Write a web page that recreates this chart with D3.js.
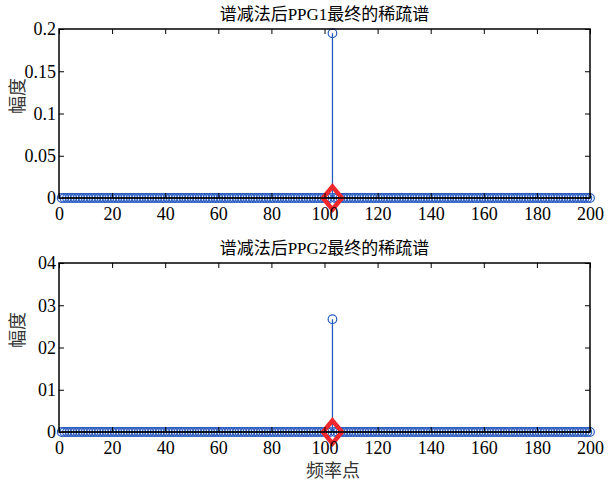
<!DOCTYPE html>
<html>
<head>
<meta charset="utf-8">
<script src="https://cdn.jsdelivr.net/npm/d3@7"></script>
<style>
body{margin:0;background:#fff;}
text{font-family:"Liberation Serif","Noto Sans CJK SC",serif;}
</style>
</head>
<body>
<div id="chart"></div>
<script>
// data
var freqPoints = d3.range(1, 201);           // 频率点 1..200
var peakIndex = 103;
var titles = ["谱减法后PPG1最终的稀疏谱", "谱减法后PPG2最终的稀疏谱"];
var peakValues = [0.195, 0.0267];
var yMax = [0.2, 0.04];
var yTicks = [[0, 0.05, 0.1, 0.15, 0.2], [0, 0.01, 0.02, 0.03, 0.04]];
var yTickLabels = [["0", "0.05", "0.1", "0.15", "0.2"], ["0", "01", "02", "03", "04"]];
var xTicks = d3.range(0, 201, 20);

var W = 610, H = 486;
var svg = d3.select("#chart").append("svg").attr("width", W).attr("height", H);

var panels = [{top: 29, bottom: 198}, {top: 263, bottom: 432}];
var left = 59, right = 590;
var blue = "#2a5cc0";

panels.forEach(function(p, k){
	var x = d3.scaleLinear().domain([0, 200]).range([left, right]);
	var y = d3.scaleLinear().domain([0, yMax[k]]).range([p.bottom, p.top]);
	var g = svg.append("g");

	var vals = freqPoints.map(function(f){ return f == peakIndex ? peakValues[k] : 0; });

	// stems
	g.selectAll(".stem").data(freqPoints).enter().append("line")
		.attr("x1", function(d){ return x(d); }).attr("x2", function(d){ return x(d); })
		.attr("y1", y(0)).attr("y2", function(d, i){ return y(vals[i]); })
		.attr("stroke", blue).attr("stroke-width", 1.3);

	// markers
	g.selectAll(".mk").data(freqPoints).enter().append("circle")
		.attr("cx", function(d){ return x(d); })
		.attr("cy", function(d, i){ return y(vals[i]); })
		.attr("r", 4.3).attr("fill", "none").attr("stroke", blue).attr("stroke-width", 1.2);

	// baseline
	g.append("line").attr("x1", x(freqPoints[0])).attr("x2", x(freqPoints[freqPoints.length-1]))
		.attr("y1", y(0)).attr("y2", y(0)).attr("stroke", "#000").attr("stroke-width", 1.2);

	// red diamond at peak frequency
	var dx = x(peakIndex), dy = y(0), s = 9.5;
	g.append("path")
		.attr("d", "M" + dx + "," + (dy - s*1.2) + "L" + (dx + s) + "," + dy + "L" + dx + "," + (dy + s*1.2) + "L" + (dx - s) + "," + dy + "Z")
		.attr("fill", "none").attr("stroke", "#f0282d").attr("stroke-width", 4.5);

	// box
	g.append("rect").attr("x", left).attr("y", p.top).attr("width", right - left).attr("height", p.bottom - p.top)
		.attr("fill", "none").attr("stroke", "#000").attr("stroke-width", 1.5);

	// x axis (ticks inward, both sides)
	var xb = g.append("g").attr("transform", "translate(0," + p.bottom + ")")
		.call(d3.axisBottom(x).tickValues(xTicks).tickSize(-5).tickPadding(9).tickFormat(d3.format("d")));
	var xt = g.append("g").attr("transform", "translate(0," + p.top + ")")
		.call(d3.axisTop(x).tickValues(xTicks).tickSize(-5).tickFormat(""));
	var yl = g.append("g").attr("transform", "translate(" + left + ",0)")
		.call(d3.axisLeft(y).tickValues(yTicks[k]).tickSize(-5).tickPadding(3)
			.tickFormat(function(d, i){ return yTickLabels[k][i]; }));
	var yr = g.append("g").attr("transform", "translate(" + right + ",0)")
		.call(d3.axisRight(y).tickValues(yTicks[k]).tickSize(-5).tickFormat(""));

	[xb, xt, yl, yr].forEach(function(a){
		a.select(".domain").remove();
		a.selectAll(".tick line").attr("stroke", "#000");
		a.selectAll("text").attr("fill", "#000").style("font-size", "18px");
	});

	// title
	svg.append("text").attr("x", (left + right) / 2).attr("y", p.top - 9)
		.attr("text-anchor", "middle").style("font-size", "17px").text(titles[k]);

	// y label
	svg.append("text").attr("transform", "translate(24," + (p.top + 67) + ") rotate(-90)")
		.attr("text-anchor", "middle").style("font-size", "18px").attr("fill", "#333").text("幅度");
});

svg.append("text").attr("x", 333).attr("y", 477).attr("text-anchor", "middle")
	.style("font-size", "18px").attr("fill", "#333").text("频率点");
</script>
</body>
</html>
